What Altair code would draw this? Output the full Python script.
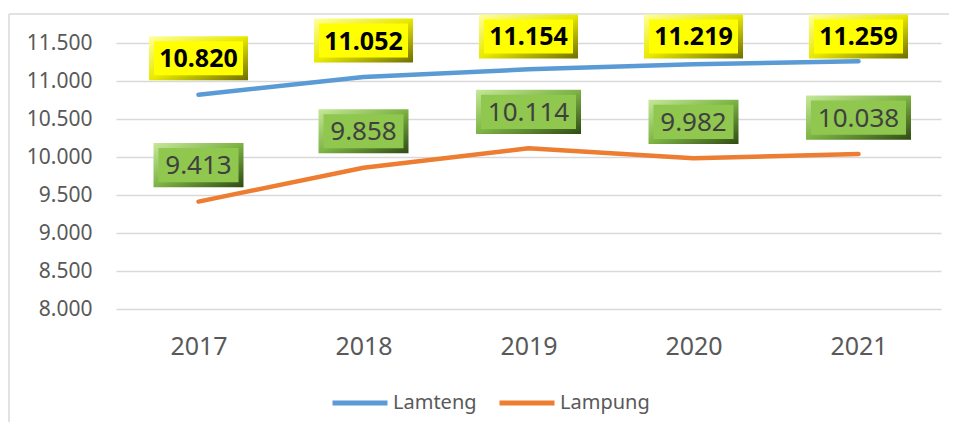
import altair as alt
import pandas as pd

years = ["2017", "2018", "2019", "2020", "2021"]
lamteng = [10820, 11052, 11154, 11219, 11259]
lampung = [9413, 9858, 10114, 9982, 10038]
series = ["Lamteng", "Lampung"]
y_ticks = [8000, 8500, 9000, 9500, 10000, 10500, 11000, 11500]

rows = []
for i, yr in enumerate(years):
    rows.append({"year": yr, "series": "Lamteng", "value": lamteng[i]})
    rows.append({"year": yr, "series": "Lampung", "value": lampung[i]})
df = pd.DataFrame(rows)

FONT = "Noto Sans"
x_enc = alt.X("year:N", sort=years,
              scale=alt.Scale(type="point", padding=0.5),
              axis=alt.Axis(title=None, labelFontSize=25, labelColor="#595959",
                            labelFont=FONT, ticks=False, domain=False, grid=False,
                            labelPadding=25, labelAngle=0))
y_scale = alt.Scale(domain=[8000, 11500], nice=False, zero=False)
y_axis = alt.Axis(title=None, values=y_ticks, labelOverlap=False,
                  labelExpr="replace(format(datum.value, ','), ',', '.')",
                  labelFontSize=21, labelColor="#595959", labelFont=FONT,
                  ticks=False, domain=False, labelPadding=24,
                  gridColor="#D9D9D9", gridWidth=1.5)

base = alt.Chart(df).encode(x=x_enc)

lines = base.mark_line(strokeWidth=4.5, strokeCap="round", strokeJoin="round").encode(
    y=alt.Y("value:Q", scale=y_scale, axis=y_axis),
    color=alt.Color("series:N", scale=alt.Scale(domain=series, range=["#5B9BD5", "#ED7D31"]),
                    legend=alt.Legend(title=None, orient="none", legendX=214, legendY=330,
                                      direction="horizontal", symbolType="stroke",
                                      symbolSize=3025, symbolStrokeWidth=5,
                                      labelFontSize=20, labelColor="#595959", labelFont=FONT,
                                      columnPadding=12, labelOffset=3)),
)

lab = base.transform_calculate(
    lbl="replace(format(datum.value, ','), ',', '.')",
    c="min(datum.value + 480, 11586)",
).transform_calculate(
    o1="datum.c - 290", o2="datum.c + 290",
    i1="datum.c - 224", i2="datum.c + 224",
    w="datum.series == 'Lamteng' ? 99 : length(datum.lbl) * 15 + 15",
).transform_calculate(
    wi="datum.w - 10",
)

yellow_grad = alt.LinearGradient(gradient="linear", x1=0, y1=0, x2=1, y2=1,
                                 stops=[alt.GradientStop(color="#FFFFA0", offset=0),
                                        alt.GradientStop(color="#E8E800", offset=0.5),
                                        alt.GradientStop(color="#6E6E00", offset=1)])
green_grad = alt.LinearGradient(gradient="linear", x1=0, y1=0, x2=1, y2=1,
                                stops=[alt.GradientStop(color="#C6E89A", offset=0),
                                       alt.GradientStop(color="#7DB344", offset=0.5),
                                       alt.GradientStop(color="#2F4A14", offset=1)])

def boxes(name, grad, inner, text_color, weight):
    f = lab.transform_filter(alt.datum.series == name)
    outer = f.mark_bar(color=grad).encode(
        y=alt.Y("o1:Q", scale=y_scale, axis=y_axis), y2="o2:Q",
        size=alt.Size("w:Q", scale=None, legend=None))
    inn = f.mark_bar(color=inner).encode(
        y=alt.Y("i1:Q", scale=y_scale, axis=y_axis), y2="i2:Q",
        size=alt.Size("wi:Q", scale=None, legend=None))
    txt = f.mark_text(font=FONT, fontSize=25 if weight == "bold" else 26,
                      fontWeight=weight, color=text_color, baseline="middle", dy=1).encode(
        y=alt.Y("c:Q", scale=y_scale, axis=y_axis), text="lbl:N")
    return [outer, inn, txt]

frame_v = alt.Chart(pd.DataFrame({"k": [0]})).mark_rule(color="#D9D9D9", strokeWidth=1.5).encode(
    x=alt.value(-107), y=alt.value(-29), y2=alt.value(420))
frame_h = alt.Chart(pd.DataFrame({"k": [0]})).mark_rule(color="#D9D9D9", strokeWidth=1.5).encode(
    x=alt.value(-107), x2=alt.value(900), y=alt.value(-29))

layers = [frame_v, frame_h, lines] + boxes("Lamteng", yellow_grad, "#FFFF00", "#000000", "bold") \
    + boxes("Lampung", green_grad, "#8FC74F", "#404040", "normal")

chart = alt.layer(*layers).properties(
    width=825, height=266,
    background="white",
    autosize=alt.AutoSizeParams(type="none"),
    padding={"left": 108, "top": 35, "right": 8, "bottom": 113},
).configure_view(stroke="transparent", strokeWidth=0)

chart.save("out.html", embed_options={"renderer": "svg", "actions": False})
